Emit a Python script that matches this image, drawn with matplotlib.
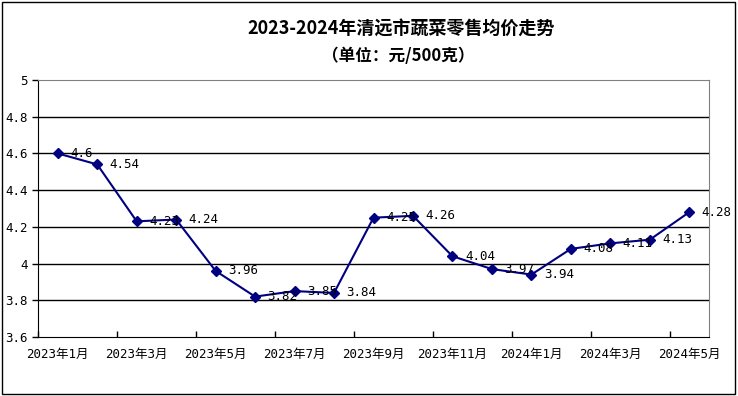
import matplotlib.pyplot as plt
from matplotlib.patches import Rectangle

plt.rcParams["font.family"] = ["DejaVu Sans Mono", "Noto Sans CJK SC"]

months = [
    "2023年1月", "2023年2月", "2023年3月", "2023年4月", "2023年5月",
    "2023年6月", "2023年7月", "2023年8月", "2023年9月", "2023年10月",
    "2023年11月", "2023年12月", "2024年1月", "2024年2月", "2024年3月",
    "2024年4月", "2024年5月",
]
prices = [4.6, 4.54, 4.23, 4.24, 3.96, 3.82, 3.85, 3.84, 4.25, 4.26,
          4.04, 3.97, 3.94, 4.08, 4.11, 4.13, 4.28]
yticks = [3.6, 3.8, 4.0, 4.2, 4.4, 4.6, 4.8, 5.0]
ylabels = ["3.6", "3.8", "4", "4.2", "4.4", "4.6", "4.8", "5"]

fig = plt.figure(figsize=(7.38, 3.96), dpi=100)
ax = fig.add_axes([0.0515, 0.149, 0.9092, 0.649])

x = list(range(len(prices)))
ax.plot(x, prices, color="#000080", lw=1.5, marker="D", markersize=5,
        markerfacecolor="#000080", markeredgecolor="#000080", zorder=3)
for xi, v in zip(x, prices):
    ax.annotate(f"{v:g}", (xi, v), xytext=(9, 0), textcoords="offset points",
                ha="left", va="center", fontsize=9, color="black", zorder=4)

ax.set_xlim(-0.5, len(prices) - 0.5)
ax.set_ylim(3.6, 5.0)
ax.set_yticks(yticks)
ax.set_yticklabels(ylabels)
for y in yticks[1:-1]:
    ax.axhline(y, color="black", lw=1, zorder=1)

# labels at every other month, tick marks on the category boundaries
ax.set_xticks(x[::2])
ax.set_xticklabels(months[::2])
ax.set_xticks([i - 0.5 for i in range(0, len(prices), 2)], minor=True)
ax.tick_params(axis="x", which="major", length=0, labelsize=9, pad=8)
ax.tick_params(axis="x", which="minor", direction="in", length=4, width=1)
ax.tick_params(axis="y", direction="out", length=4, width=1, labelsize=9)

ax.spines["left"].set_color("black")
ax.spines["bottom"].set_color("black")
ax.spines["top"].set_color("#808080")
ax.spines["right"].set_color("#808080")

fig.text(0.543, 0.93, "2023-2024年清远市蔬菜零售均价走势", ha="center", va="center",
         fontsize=13, fontweight="bold", family=["Noto Sans CJK SC"])
fig.text(0.54, 0.858, "（单位：元/500克）", ha="center", va="center",
         fontsize=12, fontweight="bold", family=["Noto Sans CJK SC"])

fig.patches.append(Rectangle((0.003, 0.005), 0.993, 0.99, transform=fig.transFigure,
                             fill=False, edgecolor="black", lw=1))

fig.savefig("out.png", dpi=100)
